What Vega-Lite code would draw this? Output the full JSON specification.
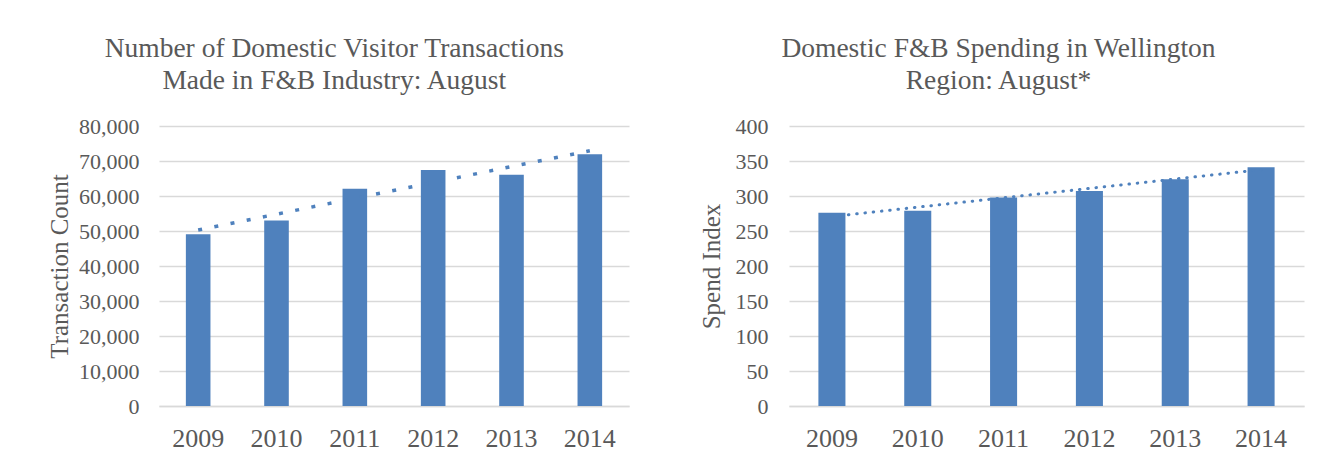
{
  "$schema": "https://vega.github.io/schema/vega-lite/v6.json",
  "background": "white",
  "padding": {"left": 47, "top": 34, "right": 5, "bottom": 5},
  "autosize": {"type": "pad"},
  "datasets": {
    "transactions": [
      {"year": 2009, "count": 49100},
      {"year": 2010, "count": 53000},
      {"year": 2011, "count": 62100},
      {"year": 2012, "count": 67400},
      {"year": 2013, "count": 66100},
      {"year": 2014, "count": 71900}
    ],
    "spend": [
      {"year": 2009, "index": 276},
      {"year": 2010, "index": 279},
      {"year": 2011, "index": 298},
      {"year": 2012, "index": 307},
      {"year": 2013, "index": 324},
      {"year": 2014, "index": 341}
    ]
  },
  "spacing": 70,
  "hconcat": [
    {
      "title": {"text": ["Number of Domestic Visitor Transactions", "Made in F&B Industry: August"], "dx": -4},
      "width": 470,
      "height": 280,
      "data": {"name": "transactions"},
      "encoding": {
        "x": {"field": "year", "type": "ordinal", "title": null,
              "scale": {"paddingInner": 0.686, "paddingOuter": 0.343}},
        "y": {"field": "count", "type": "quantitative", "title": "Transaction Count",
              "scale": {"domain": [0, 80000]},
              "axis": {"values": [0, 10000, 20000, 30000, 40000, 50000, 60000, 70000, 80000], "labelExpr": "format(datum.value, ',')", "labelPadding": 20, "titlePadding": 6}}
      },
      "layer": [
        {
          "mark": {"type": "bar", "color": "#4f81bd"}
        },
        {
          "transform": [{"regression": "count", "on": "year"}],
          "mark": {"type": "line", "color": "#4f81bd", "strokeWidth": 3.5, "strokeDash": [4, 12.5], "strokeCap": "butt"}
        }
      ]
    },
    {
      "title": {"text": ["Domestic F&B Spending in Wellington", "Region: August*"], "dx": -3},
      "width": 515,
      "height": 280,
      "data": {"name": "spend"},
      "encoding": {
        "x": {"field": "year", "type": "ordinal", "title": null,
              "scale": {"paddingInner": 0.685, "paddingOuter": 0.3425}},
        "y": {"field": "index", "type": "quantitative", "title": "Spend Index",
              "scale": {"domain": [0, 400]},
              "axis": {"values": [0, 50, 100, 150, 200, 250, 300, 350, 400], "labelPadding": 21, "titlePadding": 11}}
      },
      "layer": [
        {
          "mark": {"type": "bar", "color": "#4f81bd"}
        },
        {
          "transform": [{"regression": "index", "on": "year"}],
          "mark": {"type": "line", "color": "#4f81bd", "strokeWidth": 3, "strokeDash": [0.5, 7.8], "strokeCap": "round"}
        }
      ]
    }
  ],
  "config": {
    "font": "Liberation Serif",
    "view": {"stroke": null},
    "title": {"font": "Liberation Serif", "fontSize": 27.5, "fontWeight": "normal", "color": "#595959", "anchor": "middle", "frame": "bounds", "lineHeight": 32, "offset": 21},
    "axis": {
      "labelFont": "Liberation Serif", "titleFont": "Liberation Serif",
      "labelColor": "#595959", "titleColor": "#595959", "titleFontWeight": "normal",
      "ticks": false, "tickSize": 0,
      "gridColor": "#d9d9d9", "domainColor": "#d9d9d9"
    },
    "axisX": {"labelFontSize": 26, "labelPadding": 19, "labelAngle": 0, "domainWidth": 1.5, "grid": false},
    "axisY": {"labelFontSize": 22, "titleFontSize": 25, "domain": false, "grid": true, "gridWidth": 1.5}
  }
}
